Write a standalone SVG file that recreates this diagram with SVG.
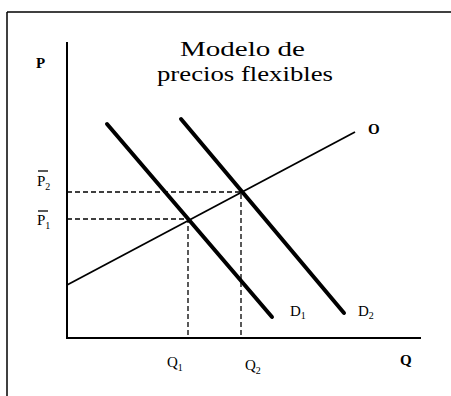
<svg xmlns="http://www.w3.org/2000/svg" width="451" height="396" viewBox="0 0 451 396">
<style>
text{font-family:"Liberation Serif","Times New Roman",serif;fill:#000}
.lbl{font-size:15px}
.b{font-weight:bold}
.sub{font-size:10px}
.axis{stroke:#000;stroke-width:2;fill:none}
.dash{stroke:#000;stroke-width:1.3;stroke-dasharray:5,3;fill:none}
.thick{stroke:#000;stroke-width:4;fill:none;stroke-linecap:round}
.thin{stroke:#000;stroke-width:1.8;fill:none}
</style>
<rect width="451" height="396" fill="#fff"/>
<g id="frame">
<line x1="7" y1="12" x2="451" y2="12" stroke="#000" stroke-width="1.5"/>
<line x1="7" y1="12" x2="7" y2="396" stroke="#000" stroke-width="1.5"/>
</g>
<g id="title">
<text x="180" y="56" font-size="22" textLength="125" lengthAdjust="spacingAndGlyphs">Modelo de</text>
<text x="157" y="81" font-size="22" textLength="176" lengthAdjust="spacingAndGlyphs">precios flexibles</text>
</g>
<g id="axes">
<line class="axis" x1="67" y1="42" x2="67" y2="339"/>
<line class="axis" x1="66" y1="338" x2="421" y2="338"/>
<text class="lbl b" x="36" y="68">P</text>
<text class="lbl b" x="400" y="365">Q</text>
</g>
<g id="connectors">
<path class="dash" d="M67 192H241V338"/>
<path class="dash" d="M67 219H188V338"/>
</g>
<g id="supply">
<line class="thin" x1="67" y1="285" x2="355" y2="132"/>
<text class="lbl b" x="368" y="134">O</text>
</g>
<g id="D1">
<line class="thick" x1="107" y1="124" x2="272" y2="317"/>
<text class="lbl" x="290" y="316">D<tspan class="sub" dy="3">1</tspan></text>
</g>
<g id="D2">
<line class="thick" x1="181" y1="119" x2="344" y2="313"/>
<text class="lbl" x="358" y="316">D<tspan class="sub" dy="3">2</tspan></text>
</g>
<g id="P2">
<line x1="38" y1="171" x2="48" y2="171" stroke="#000" stroke-width="1.3"/>
<text class="lbl" x="37" y="186">P<tspan class="sub" dy="4">2</tspan></text>
</g>
<g id="P1">
<line x1="38" y1="211" x2="48" y2="211" stroke="#000" stroke-width="1.3"/>
<text class="lbl" x="37" y="225">P<tspan class="sub" dy="4">1</tspan></text>
</g>
<g id="Q1">
<text class="lbl" x="167" y="367">Q<tspan class="sub" dy="4">1</tspan></text>
</g>
<g id="Q2">
<text class="lbl" x="245" y="370">Q<tspan class="sub" dy="4">2</tspan></text>
</g>
</svg>
